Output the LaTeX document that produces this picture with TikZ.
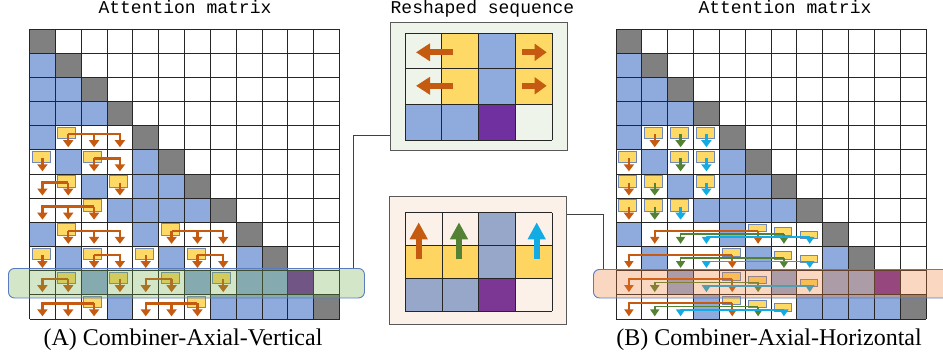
\documentclass[tikz,border=0pt]{standalone}
\usepackage{fontspec}
\setmainfont{Liberation Serif}
\newfontfamily\monofnt{Liberation Mono}
\usetikzlibrary{arrows.meta,calc}
\definecolor{cblue}{HTML}{8FAADC}
\definecolor{cgray}{HTML}{808080}
\definecolor{cyel}{HTML}{FFD966}
\definecolor{corg}{HTML}{C55A11}
\definecolor{cgrn}{HTML}{548235}
\definecolor{ccyan}{HTML}{12ABE3}
\definecolor{cpur}{HTML}{7030A0}
\definecolor{cboxline}{HTML}{7088B5}
\definecolor{bandgreen}{HTML}{70AD47}
\definecolor{bandorange}{HTML}{ED7D31}
\definecolor{bandline}{HTML}{5B7BC0}
\definecolor{topbg}{HTML}{EFF4EA}
\definecolor{botbg}{HTML}{FCF1E8}
\definecolor{bblue}{HTML}{97A7C9}
\definecolor{byel}{HTML}{FFD561}
\definecolor{bpur}{HTML}{7B3793}
\def\CW{25.833}
\def\CH{24.167}
\def\GY{29}
% cell fill: #1 grid x, #2 row, #3 col, #4 colour
\newcommand\gcell[4]{\fill[#4] ({#1+#3*\CW},{\GY+#2*\CH}) rectangle ++(\CW,\CH);}
% tall yellow box
\newcommand\ytall[3]{\filldraw[ybox] ({#1+(#3+0.5)*\CW-10.5},{\GY+#2*\CH+1.5}) rectangle ++(18,11.5);}
% small yellow box, #4 = level
\newcommand\ysmall[4]{\filldraw[ybox] ({#1+(#3+0.5)*\CW-9.8},{\GY+#2*\CH+2+3.3*#4}) rectangle ++(17.7,7.5);}
% arrow: #1 gx, #2 row, #3 box col, #4 target col, #5 colour, #6 line offset, #7 style
\newcommand\garw[7]{\draw[#7,#5] ({#1+(#3+0.5)*\CW},{\GY+#2*\CH+#6}) -- ({#1+(#4+0.5)*\CW},{\GY+#2*\CH+#6}) -- ({#1+(#4+0.5)*\CW},{\GY+#2*\CH+21.5});}
\begin{document}
\begin{tikzpicture}[x=1pt,y=-1pt,
  ybox/.style={fill=cyel, draw=cboxline, line width=0.8pt},
  thickarr/.style={line width=2.4pt, -{Triangle[width=10pt,length=7pt]}, line join=miter},
  thinarr/.style={line width=1.7pt, -{Triangle[width=9pt,length=7pt]}, line join=miter},
  gridline/.style={draw=black!85, line width=0.9pt},
  fat/.style={line width=6pt},
  conn/.style={draw=black!75, line width=1pt},
  band/.style={rounded corners=6pt, line width=0.9pt, draw=bandline, fill opacity=0.3, inner sep=0pt, anchor=north west},
  mbox/.style={draw=black!65, line width=1.3pt, inner sep=0pt, anchor=north west, minimum width=177.5pt, minimum height=128pt},
  ttltext/.style={anchor=base, inner sep=0pt, font=\monofnt\fontsize{18}{20}\selectfont},
  captext/.style={anchor=base, inner sep=0pt, font=\fontsize{24}{28}\selectfont},
]
\useasboundingbox (0,0) rectangle (943,356);
\fill[white] (0,0) rectangle (943,356);
\clip (0,0) rectangle (943,356);

% ---------- attention matrices ----------
\foreach \gx in {29.5,616}{
  \fill[white] (\gx,29) rectangle ++(310,290);
  \foreach \r in {1,...,11}{
    \pgfmathtruncatemacro\rmax{\r-1}
    \foreach \c in {0,...,\rmax}{\gcell{\gx}{\r}{\c}{cblue}}
  }
  \foreach \r/\cs in {4/{1,2,3},5/{0,2,3},6/{0,1,3},7/{0,1,2},8/{1,2,3,5,6,7},9/{0,2,3,4,6,7},10/{0,1,3,4,5,7},11/{0,1,2,4,5,6}}{
    \foreach \c in \cs {\gcell{\gx}{\r}{\c}{white}}
  }
  \foreach \r in {0,...,11}{\gcell{\gx}{\r}{\r}{cgray}}
  \gcell{\gx}{10}{10}{cpur}
  \foreach \i in {0,...,12}{
    \draw[gridline] ({\gx+\i*\CW},29) -- ({\gx+\i*\CW},319);
    \draw[gridline] (\gx,{29+\i*\CH}) -- ({\gx+310},{29+\i*\CH});
  }
}

% ---------- (A) vertical ----------
\foreach \r/\b/\ts in {4/1/{1,2,3},5/0/{0},5/2/{2,3},6/1/{0,1},6/3/{3},7/2/{0,1,2},8/1/{1,2,3},8/5/{5,6,7},9/0/{0},9/2/{2,3},9/4/{4},9/6/{6,7},10/1/{0,1},10/3/{3},10/5/{4,5},10/7/{7},11/2/{0,1,2},11/6/{4,5,6}}{
  \ytall{29.5}{\r}{\b}
  \foreach \t in \ts {\garw{29.5}{\r}{\b}{\t}{corg}{8.5}{thickarr}}
}

% ---------- (B) horizontal ----------
\foreach \r/\c/\col in {4/1/corg,4/2/cgrn,4/3/ccyan,5/0/corg,5/2/cgrn,5/3/ccyan,6/0/corg,6/1/cgrn,6/3/ccyan,7/0/corg,7/1/cgrn,7/2/ccyan}{
  \ytall{616}{\r}{\c}
  \garw{616}{\r}{\c}{\c}{\col}{8.5}{thickarr}
}
\foreach \r/\k/\b/\t/\col in {8/0/5/1/corg,8/1/6/2/cgrn,8/2/7/3/ccyan,9/0/4/0/corg,9/1/6/2/cgrn,9/2/7/3/ccyan,10/0/4/0/corg,10/1/5/1/cgrn,10/2/7/3/ccyan,11/0/4/0/corg,11/1/5/1/cgrn,11/2/6/2/ccyan}{
  \ysmall{616}{\r}{\b}{\k}
}
\foreach \r/\k/\b/\t/\col in {8/0/5/1/corg,8/1/6/2/cgrn,8/2/7/3/ccyan,9/0/4/0/corg,9/1/6/2/cgrn,9/2/7/3/ccyan,10/0/4/0/corg,10/1/5/1/cgrn,10/2/7/3/ccyan,11/0/4/0/corg,11/1/5/1/cgrn,11/2/6/2/ccyan}{
  \pgfmathsetmacro\yo{8.4+3.3*\k}
  \garw{616}{\r}{\b}{\b}{\col}{\yo}{thinarr}
  \garw{616}{\r}{\b}{\t}{\col}{\yo}{thinarr}
}

% ---------- highlight bands ----------
\node[band, fill=bandgreen, minimum width=356pt, minimum height=29.5pt] (bandA) at (8,268) {};
\node[band, fill=bandorange, minimum width=380pt, minimum height=28.5pt] (bandB) at (593,269) {};

% ---------- reshaped sequence (top) ----------
\node[mbox, fill=topbg] (topbox) at (389.5,22) {};
\def\tx{405}\def\ty{33.3}\def\tw{36.75}\def\th{35.57}
\foreach \r/\c/\col in {0/1/cyel,0/2/cblue,0/3/cyel,1/1/cyel,1/2/cblue,1/3/cyel,2/0/cblue,2/1/cblue,2/2/cpur}{
  \fill[\col] ({\tx+\c*\tw},{\ty+\r*\th}) rectangle ++(\tw,\th);
}
\foreach \i in {0,...,4}{\draw[black!85,line width=0.9pt] ({\tx+\i*\tw},\ty) -- ({\tx+\i*\tw},{\ty+3*\th});}
\foreach \j in {0,...,3}{\draw[black!85,line width=0.9pt] (\tx,{\ty+\j*\th}) -- ({\tx+4*\tw},{\ty+\j*\th});}
\foreach \yy in {52.3,85.8}{
  \draw[fat,corg,-{Triangle[width=17pt,length=14pt]}] (453,\yy) -- (416,\yy);
  \draw[fat,corg,-{Triangle[width=16.5pt,length=12pt]}] (521.7,\yy) -- (546.7,\yy);
}

% ---------- reshaped sequence (bottom) ----------
\node[mbox, fill=botbg] (botbox) at (388.5,196) {};
\def\bx{405.3}\def\by{212.7}\def\bw{36.68}\def\bh{32.77}
\foreach \r/\c/\col in {0/2/bblue,1/0/byel,1/1/byel,1/2/bblue,1/3/byel,2/0/bblue,2/1/bblue,2/2/bpur}{
  \fill[\col] ({\bx+\c*\bw},{\by+\r*\bh}) rectangle ++(\bw,\bh);
}
\foreach \i in {0,...,4}{\draw[black!85,line width=0.9pt] ({\bx+\i*\bw},\by) -- ({\bx+\i*\bw},{\by+3*\bh});}
\foreach \j in {0,...,3}{\draw[black!85,line width=0.9pt] (\bx,{\by+\j*\bh}) -- ({\bx+4*\bw},{\by+\j*\bh});}
\foreach \xx/\col in {418.7/corg,459/cgrn,536.7/ccyan}{
  \draw[fat,\col,-{Triangle[width=17pt,length=17pt]}] (\xx,259.3) -- (\xx,222.3);
}

% ---------- connectors ----------
\coordinate (ca) at (353,135);
\coordinate (cb) at (603,214);
\draw[conn] (topbox.west |- ca) -- (ca) -- (ca |- bandA.north);
\draw[conn] (botbox.east |- cb) -- (cb) -- (cb |- bandB.north);

% ---------- texts ----------
\node[ttltext] (titleA) at (185,13.6) {Attention matrix};
\node[ttltext] (titleB) at (785,13.6) {Attention matrix};
\node[ttltext] (titleM) at (482.5,13.6) {Reshaped sequence};
\node[captext] (capA) at (183,345) {(A) Combiner-Axial-Vertical};
\node[captext] (capB) at (769,345) {(B) Combiner-Axial-Horizontal};
\end{tikzpicture}
\end{document}
